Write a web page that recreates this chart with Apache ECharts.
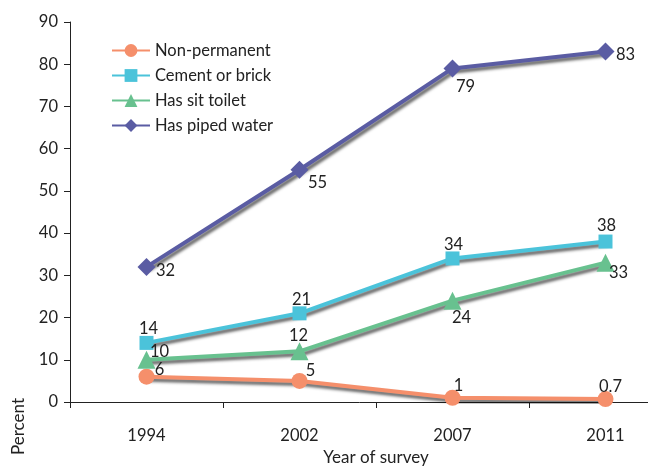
<!DOCTYPE html>
<html>
<head>
<meta charset="utf-8">
<script src="https://cdn.jsdelivr.net/npm/echarts@6/dist/echarts.min.js"></script>
<style>
  html, body { margin: 0; padding: 0; background: #fff; }
  #chart { width: 648px; height: 466px; }
</style>
</head>
<body>
<div id="chart"></div>
<script>
// survey years and values (percent)
const years = ['1994', '2002', '2007', '2011'];
const nonPermanent = [6, 5, 1, 0.7];
const cementBrick = [14, 21, 34, 38];
const sitToilet = [10, 12, 24, 33];
const pipedWater = [32, 55, 79, 83];
const yTicks = [0, 10, 20, 30, 40, 50, 60, 70, 80, 90];

const FONT = 'Lato';

// label centre offset from its point, [dx, dy]
function withLabels(values, offsets) {
    return values.map(function (v, i) {
        return {
            value: v,
            label: { position: 'inside', offset: offsets[i] }
        };
    });
}

function lineSeries(name, values, color, symbol, size, offsets) {
    return {
        name: name,
        type: 'line',
        data: withLabels(values, offsets),
        symbol: symbol,
        symbolSize: size,
        itemStyle: { color: color },
        lineStyle: {
            width: 4,
            color: color,
            shadowColor: 'rgba(0,0,0,0.6)',
            shadowBlur: 3,
            shadowOffsetX: 2,
            shadowOffsetY: 3
        },
        label: {
            show: true,
            color: '#222',
            fontFamily: FONT,
            fontSize: 16.5
        },
        emphasis: { disabled: true },
        animation: false
    };
}

const chart = echarts.init(document.getElementById('chart'));
chart.setOption({
    backgroundColor: '#fff',
    grid: { left: 70, top: 22, width: 612, bottom: 64, outerBoundsMode: 'none', containLabel: false },
    legend: {
        orient: 'vertical',
        left: 106,
        top: 37,
        itemGap: 8,
        itemWidth: 38,
        itemHeight: 16,
        textStyle: { fontFamily: FONT, fontSize: 16.5, color: '#222' },
        data: ['Non-permanent', 'Cement or brick', 'Has sit toilet', 'Has piped water']
    },
    xAxis: {
        type: 'category',
        data: years,
        boundaryGap: true,
        name: 'Year of survey',
        nameLocation: 'middle',
        nameGap: 46,
        nameTextStyle: { fontFamily: FONT, fontSize: 17, color: '#222' },
        axisLine: { lineStyle: { color: '#222', width: 1 } },
        axisTick: { show: true, length: 6, lineStyle: { color: '#222' } },
        axisLabel: { fontFamily: FONT, fontSize: 16.5, color: '#222', margin: 25 }
    },
    yAxis: {
        type: 'value',
        min: yTicks[0],
        max: yTicks[yTicks.length - 1],
        interval: 10,
        axisLine: { show: true, lineStyle: { color: '#222', width: 1 } },
        axisTick: { show: true, length: 6, lineStyle: { color: '#222' } },
        axisLabel: { fontFamily: FONT, fontSize: 16.5, color: '#222', margin: 12 },
        splitLine: { show: false }
    },
    graphic: [{
        type: 'text',
        left: 10,
        top: 398,
        rotation: Math.PI / 2,
        style: { text: 'Percent', fontFamily: FONT, fontSize: 17, fill: '#222' }
    }],
    series: [
        lineSeries('Non-permanent', nonPermanent, '#F58F6B', 'circle', 16,
            [[13, -7], [11, -10], [6, -12], [5, -12]]),
        lineSeries('Cement or brick', cementBrick, '#4BC3DA', 'rect', 14,
            [[2, -14], [2, -14], [1, -14], [1, -16]]),
        lineSeries('Has sit toilet', sitToilet, '#68C18F', 'triangle', 18,
            [[13, -8], [-1, -16], [9, 17], [13, 10]]),
        lineSeries('Has piped water', pipedWater, '#5A5CA3', 'diamond', 18,
            [[19, 4], [18, 13], [13, 18], [20, 3]])
    ]
});
</script>
</body>
</html>
